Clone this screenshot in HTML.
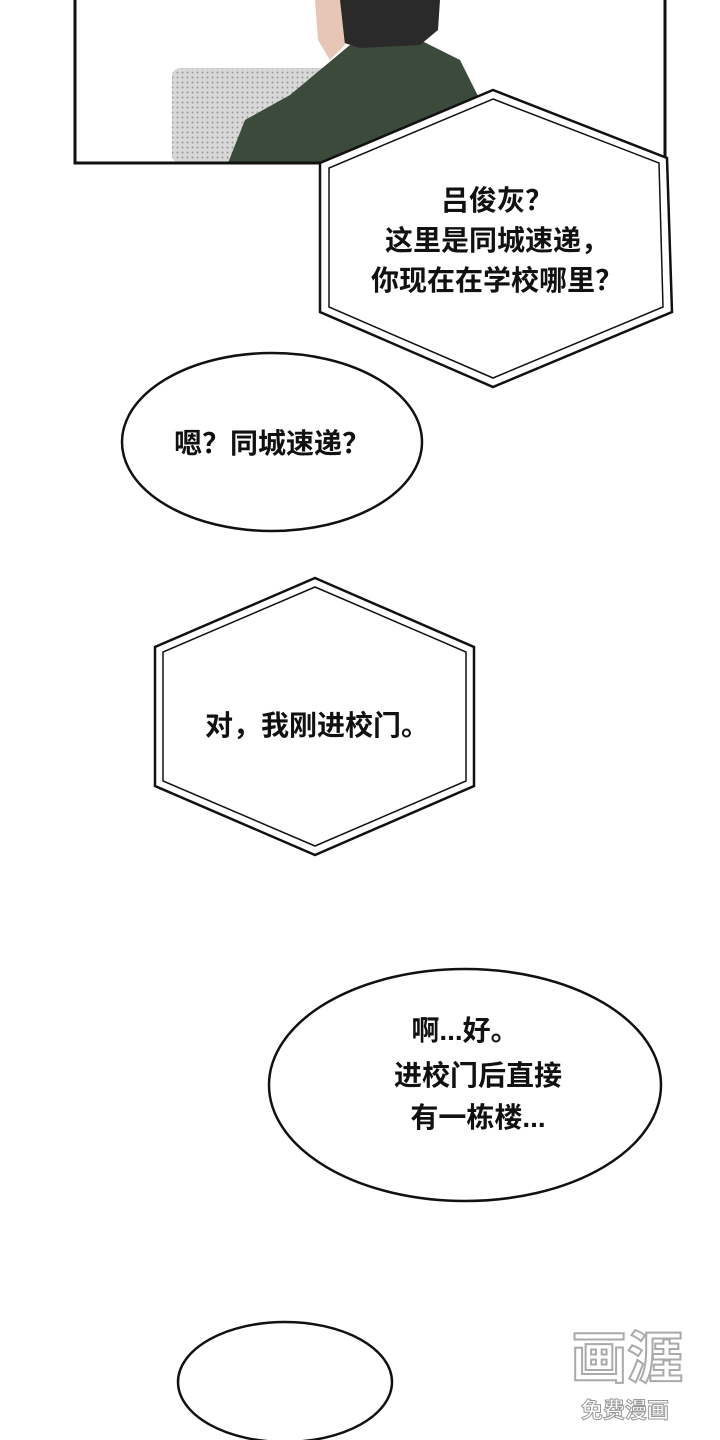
<!DOCTYPE html>
<html><head><meta charset="utf-8"><style>
html,body{margin:0;padding:0;background:#fff;}
svg{display:block;}
text{font-family:"Liberation Sans","Noto Sans CJK SC",sans-serif;font-size:28px;font-weight:bold;fill:#111;text-anchor:middle;}
</style></head><body>
<svg width="720" height="1440" viewBox="0 0 720 1440" xmlns="http://www.w3.org/2000/svg">
<defs>
<pattern id="dots" width="5" height="5" patternUnits="userSpaceOnUse">
<rect width="5" height="5" fill="#d8d8d8"/><circle cx="2.5" cy="2.5" r="1" fill="#999"/>
</pattern>
</defs>
<rect x="172" y="68" width="160" height="95" rx="8" fill="url(#dots)"/>
<path d="M228 163 L245 120 L290 95 L320 70 L350 45 L420 40 L460 60 L480 100 L485 163 Z" fill="#3b4a3a"/>
<path d="M330 0 L440 0 L438 30 L420 45 L360 48 L335 40 Z" fill="#2a2a2a"/>
<path d="M315 0 L340 0 L345 45 L330 60 L318 40 Z" fill="#e8c6b5"/>
<path d="M75 0 V163 H665 V0" fill="none" stroke="#111" stroke-width="3"/>
<polygon points="493,90 667,158 672,312 493,387 320,312 320,163" fill="#fff" stroke="#111" stroke-width="2.5"/>
<polygon points="493,99 659,163 663,307 493,378 329,307 329,168" fill="none" stroke="#111" stroke-width="1.5"/>
<text x="497" y="210">吕俊灰？</text>
<text x="497" y="250">这里是同城速递，</text>
<text x="497" y="290">你现在在学校哪里？</text>
<ellipse cx="272" cy="442" rx="150" ry="89" fill="#fff" stroke="#111" stroke-width="2.5"/>
<text x="272" y="453">嗯？同城速递？</text>
<polygon points="315,578 474,647 474,786 315,855 155,786 155,647" fill="#fff" stroke="#111" stroke-width="2.5"/>
<polygon points="315,587 466,652 466,781 315,846 163,781 163,652" fill="none" stroke="#111" stroke-width="1.5"/>
<text x="317" y="735">对，我刚进校门。</text>
<ellipse cx="465" cy="1085" rx="196" ry="116" fill="#fff" stroke="#111" stroke-width="2.5"/>
<text x="465" y="1040">啊...好。</text>
<text x="478" y="1085">进校门后直接</text>
<text x="478" y="1127">有一栋楼...</text>
<ellipse cx="285" cy="1382" rx="107" ry="60" fill="#fff" stroke="#111" stroke-width="2.5"/>
<text x="627" y="1378" style="font-size:56px;fill:#fff;stroke:#aaa;stroke-width:2;font-weight:bold">画涯</text>
<text x="625" y="1418" style="font-size:22px;fill:#fff;stroke:#999;stroke-width:1">免费漫画</text>
</svg>
</body></html>
